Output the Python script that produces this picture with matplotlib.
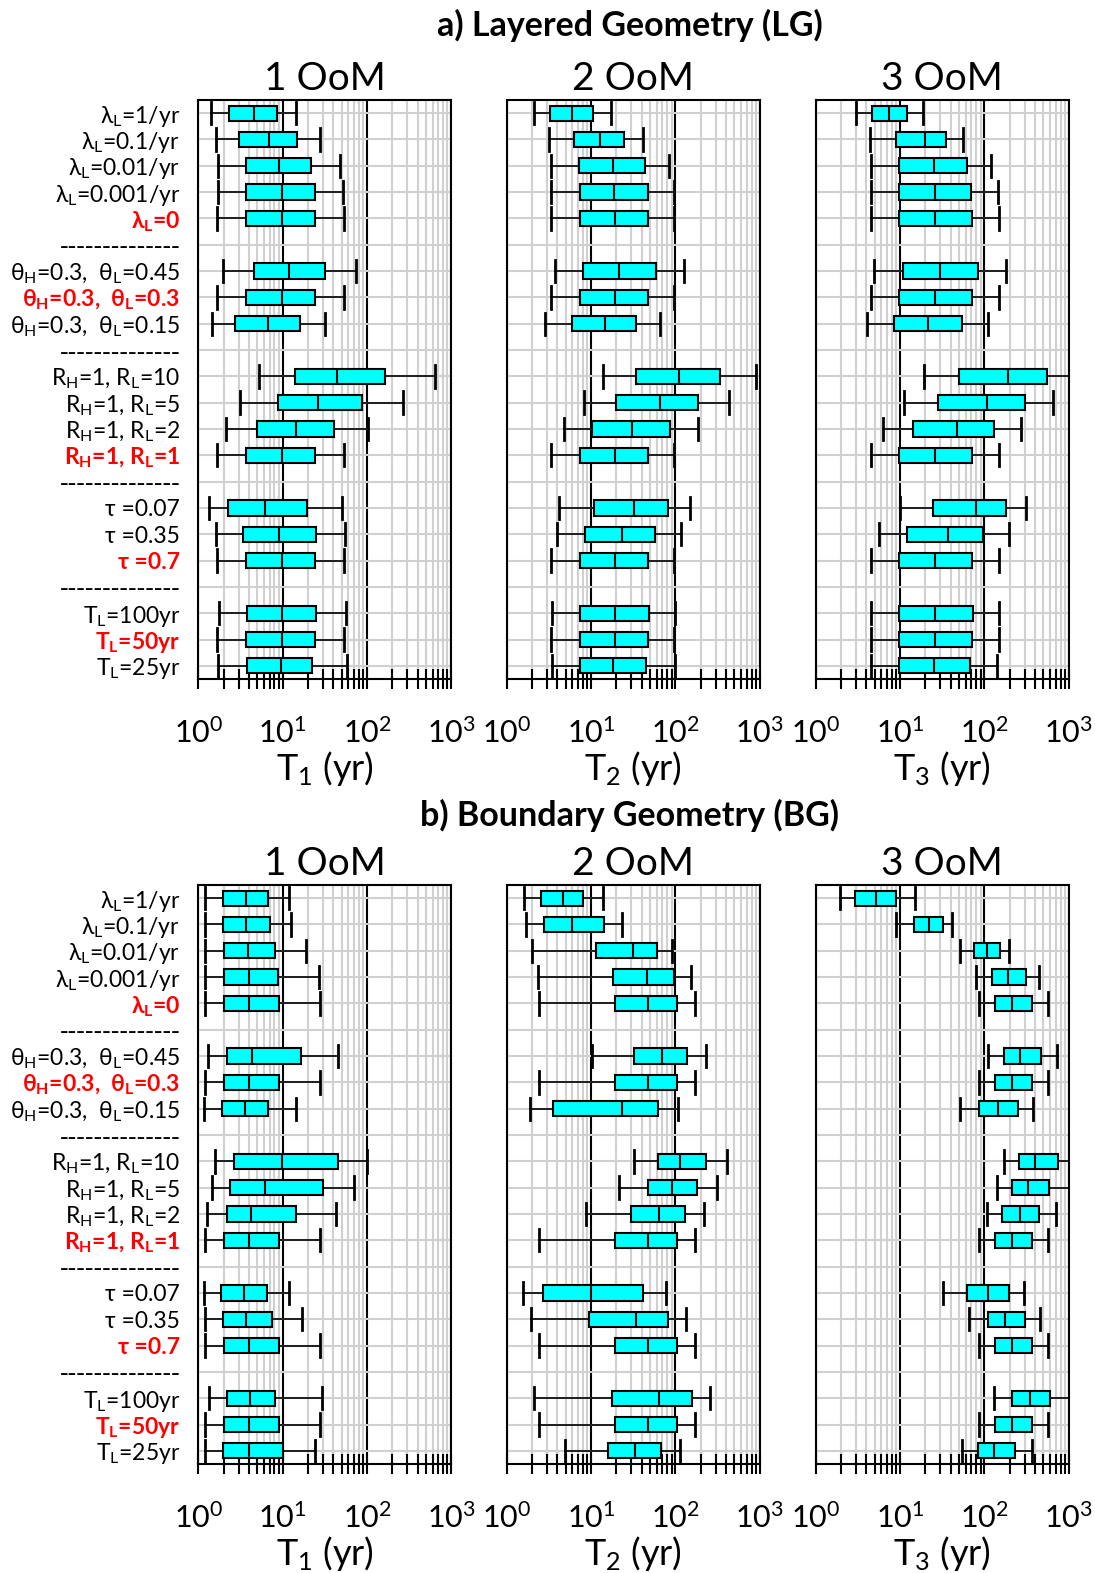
import matplotlib
matplotlib.use('Agg')
import matplotlib.pyplot as plt
from matplotlib.ticker import NullFormatter, LogLocator

plt.rcParams['font.family'] = ['Lato', 'DejaVu Sans']
plt.rcParams['mathtext.fontset'] = 'custom'
plt.rcParams['mathtext.rm'] = 'Lato'
plt.rcParams['mathtext.it'] = 'Lato:italic'
plt.rcParams['mathtext.bf'] = 'Lato:bold'

# row labels (22 rows, separators included)
row_labels = [
    r'λ$_{\mathdefault{L}}$=1/yr', r'λ$_{\mathdefault{L}}$=0.1/yr', r'λ$_{\mathdefault{L}}$=0.01/yr',
    r'λ$_{\mathdefault{L}}$=0.001/yr', r'λ$_{\mathdefault{L}}$=0',
    '--------------',
    r'θ$_{\mathdefault{H}}$=0.3,  θ$_{\mathdefault{L}}$=0.45', r'θ$_{\mathdefault{H}}$=0.3,  θ$_{\mathdefault{L}}$=0.3',
    r'θ$_{\mathdefault{H}}$=0.3,  θ$_{\mathdefault{L}}$=0.15',
    '--------------',
    r'R$_{\mathdefault{H}}$=1, R$_{\mathdefault{L}}$=10', r'R$_{\mathdefault{H}}$=1, R$_{\mathdefault{L}}$=5',
    r'R$_{\mathdefault{H}}$=1, R$_{\mathdefault{L}}$=2', r'R$_{\mathdefault{H}}$=1, R$_{\mathdefault{L}}$=1',
    '--------------',
    'τ =0.07', 'τ =0.35', 'τ =0.7',
    '--------------',
    r'T$_{\mathdefault{L}}$=100yr', r'T$_{\mathdefault{L}}$=50yr', r'T$_{\mathdefault{L}}$=25yr',
]
sep_rows = [6, 10, 15, 19]
red_rows = [5, 8, 14, 18, 21]
box_rows = [r for r in range(1, 23) if r not in sep_rows]

# each box: whisker low, q1, median, q3, whisker high
a_T1 = [
    [1.41, 2.33, 4.6, 8.5, 14.5],
    [1.61, 3.0, 6.8, 15.0, 27.8],
    [1.73, 3.65, 9.1, 21.5, 47.6],
    [1.73, 3.65, 9.7, 24.2, 51.6],
    [1.68, 3.68, 9.8, 24.2, 53],
    [1.96, 4.54, 12.0, 32.1, 74.8],
    [1.68, 3.68, 9.8, 24.2, 53],
    [1.45, 2.75, 6.65, 16.0, 31.6],
    [5.3, 13.9, 44.2, 165, 648],
    [3.1, 8.75, 26.5, 88.3, 270],
    [2.13, 5.0, 14.3, 41.0, 103],
    [1.68, 3.68, 9.8, 24.2, 53],
    [1.33, 2.27, 6.18, 19.6, 50.7],
    [1.61, 3.36, 9.06, 24.7, 54.6],
    [1.68, 3.68, 9.8, 24.2, 53],
    [1.76, 3.75, 9.8, 24.7, 56.5],
    [1.68, 3.68, 9.8, 24.2, 53],
    [1.70, 3.75, 9.57, 22.5, 58],
]

a_T2 = [
    [2.09, 3.26, 5.98, 10.5, 17.2],
    [3.17, 6.21, 12.9, 24.7, 41.8],
    [3.35, 7.18, 18.0, 43.8, 83.4],
    [3.38, 7.31, 18.6, 47.1, 97.3],
    [3.38, 7.31, 19.0, 47.9, 97.3],
    [3.70, 8.0, 21.7, 58.5, 128],
    [3.38, 7.31, 19.0, 47.9, 97.3],
    [2.84, 5.88, 14.6, 34.5, 66.4],
    [13.9, 34.5, 110, 341, 909],
    [8.3, 19.9, 65.3, 185, 432],
    [4.81, 10.4, 31.0, 85.7, 187],
    [3.38, 7.31, 19.0, 47.9, 97.3],
    [4.16, 10.9, 32.1, 81.9, 150],
    [3.94, 8.38, 23.0, 58.0, 116],
    [3.38, 7.31, 19.0, 47.9, 97.3],
    [3.47, 7.44, 19.1, 49.3, 100],
    [3.38, 7.31, 19.0, 47.9, 97.3],
    [3.41, 7.31, 18.3, 45.0, 99],
]

a_T3 = [
    [3.04, 4.61, 7.47, 12.2, 18.9],
    [4.41, 8.97, 20.0, 35.4, 55.3],
    [4.49, 9.64, 25.1, 62.9, 120],
    [4.49, 9.73, 26.2, 70.1, 147],
    [4.49, 9.73, 26.2, 71.4, 149],
    [4.92, 10.8, 30.1, 84.9, 182],
    [4.49, 9.73, 26.2, 71.4, 149],
    [4.03, 8.41, 21.7, 53.8, 110],
    [19.1, 49.6, 191, 553, 1000],
    [11.2, 28.2, 106, 301, 652],
    [6.29, 14.4, 47.0, 130, 275],
    [4.49, 9.73, 26.2, 71.4, 149],
    [9.9, 24.8, 79.6, 181, 309],
    [5.58, 12.2, 36.7, 97.3, 196],
    [4.49, 9.73, 26.2, 71.4, 149],
    [4.57, 9.82, 26.2, 73.4, 151],
    [4.49, 9.73, 26.2, 71.4, 149],
    [4.53, 9.64, 25.3, 68.2, 143],
]

b_T1 = [
    [1.21, 1.96, 3.65, 6.79, 11.9],
    [1.21, 1.96, 3.72, 7.04, 12.5],
    [1.21, 2.0, 3.89, 8.22, 18.8],
    [1.21, 2.04, 3.96, 8.76, 26.7],
    [1.21, 2.04, 4.0, 9.0, 27.9],
    [1.30, 2.21, 4.38, 16.3, 45.2],
    [1.21, 2.04, 4.0, 9.0, 27.9],
    [1.18, 1.91, 3.58, 6.73, 14.3],
    [1.56, 2.68, 9.78, 45.6, 100],
    [1.47, 2.36, 6.14, 30.0, 69.5],
    [1.28, 2.21, 4.26, 14.6, 42.5],
    [1.21, 2.04, 4.0, 9.0, 27.9],
    [1.18, 1.84, 3.46, 6.49, 11.8],
    [1.20, 1.95, 3.69, 7.57, 17.2],
    [1.21, 2.04, 4.0, 9.0, 27.9],
    [1.35, 2.21, 4.15, 8.22, 28.9],
    [1.21, 2.04, 4.0, 9.0, 27.9],
    [1.21, 1.98, 3.96, 10.2, 23.9],
]

b_T2 = [
    [1.62, 2.53, 4.60, 8.0, 13.8],
    [1.68, 2.74, 5.98, 14.1, 23.4],
    [2.0, 11.6, 31.3, 60.7, 91.4],
    [2.37, 18.0, 45.8, 96.4, 155],
    [2.41, 19.0, 47.9, 104, 171],
    [10.3, 32.4, 68.9, 136, 229],
    [2.41, 19.0, 47.9, 104, 171],
    [1.91, 3.57, 23.0, 62.4, 108],
    [32.7, 62.9, 113, 230, 415],
    [21.5, 46.8, 90, 179, 309],
    [8.67, 29.8, 63.6, 130, 216],
    [2.41, 19.0, 47.9, 104, 171],
    [1.57, 2.66, 10.0, 41.3, 76.9],
    [1.92, 9.44, 34.1, 81.0, 134],
    [2.41, 19.0, 47.9, 104, 171],
    [2.09, 17.6, 64.2, 156, 258],
    [2.41, 19.0, 47.9, 104, 171],
    [4.96, 15.8, 33.4, 67.0, 113],
]

b_T3 = [
    [1.93, 2.95, 5.19, 8.97, 15.1],
    [8.89, 14.5, 22.3, 32.1, 41.0],
    [51.9, 74.8, 108, 155, 198],
    [80.4, 124, 193, 315, 445],
    [86.5, 134, 213, 371, 564],
    [111, 171, 267, 470, 734],
    [86.5, 134, 213, 371, 564],
    [51, 87.2, 147, 253, 374],
    [173, 255, 402, 748, 1000],
    [142, 211, 329, 587, 1000],
    [108, 164, 261, 442, 703],
    [86.5, 134, 213, 371, 564],
    [32.7, 62.2, 109, 194, 293],
    [66.3, 109, 177, 302, 451],
    [86.5, 134, 213, 371, 564],
    [130, 214, 347, 593, 1000],
    [86.5, 134, 213, 371, 564],
    [54.3, 83.6, 131, 228, 366],
]

panel_titles = ['a) Layered Geometry (LG)', 'b) Boundary Geometry (BG)']
col_titles = ['1 OoM', '2 OoM', '3 OoM']
xlabels = [r'T$_{\mathdefault{1}}$ (yr)', r'T$_{\mathdefault{2}}$ (yr)', r'T$_{\mathdefault{3}}$ (yr)']

W, H = 1095, 1573
fig = plt.figure(figsize=(W / 100, H / 100), dpi=100)

lefts = [198.3, 506.7, 815.7]
tops = [100, 885]
ax_w, ax_h = 253, 579
panel_data = [[a_T1, a_T2, a_T3], [b_T1, b_T2, b_T3]]

for p in range(2):
    for j in range(3):
        ax = fig.add_axes([lefts[j] / W, 1 - (tops[p] + ax_h) / H, ax_w / W, ax_h / H])
        rows = panel_data[p][j]
        stats = [dict(whislo=r[0], q1=r[1], med=r[2], q3=r[3], whishi=r[4], fliers=[]) for r in rows]
        ax.bxp(stats, positions=box_rows, orientation='horizontal', widths=0.58, capwidths=0.85,
               patch_artist=True, showfliers=False,
               boxprops=dict(facecolor='#00ffff', edgecolor='black', linewidth=1.5),
               medianprops=dict(color='black', linewidth=1.5),
               whiskerprops=dict(color='black', linewidth=1.2),
               capprops=dict(color='black', linewidth=2))
        ax.set_xscale('log')
        ax.set_xlim(1, 1000)
        ax.set_ylim(22.5, 0.5)
        ax.set_axisbelow(True)
        ax.xaxis.set_major_locator(LogLocator(base=10))
        ax.xaxis.set_minor_locator(LogLocator(base=10, subs=range(2, 10)))
        ax.xaxis.set_minor_formatter(NullFormatter())
        ax.grid(which='minor', axis='x', color='#d0d0d0', linewidth=1.5)
        ax.grid(which='major', axis='x', color='black', linewidth=1.5)
        ax.set_yticks(range(1, 23))
        ax.grid(which='major', axis='y', color='#d0d0d0', linewidth=1.5)
        ax.tick_params(axis='x', which='both', direction='inout', length=15, width=1.5,
                       labelsize=22, pad=20, top=False)
        ax.tick_params(axis='y', length=0, pad=13, labelsize=16.5)
        for s in ax.spines.values():
            s.set_linewidth(1.5)
        if j == 0:
            ax.set_yticklabels(row_labels)
            for i, t in enumerate(ax.get_yticklabels()):
                r = i + 1
                if r in red_rows:
                    t.set_color('red')
                    t.set_fontweight('bold')
                if r in sep_rows:
                    t.set_family('DejaVu Sans')
                    t.set_fontsize(17.5)
        else:
            ax.set_yticklabels([])
        ax.set_title(col_titles[j], fontsize=28, pad=7)
        ax.set_xlabel(xlabels[j], fontsize=26, labelpad=1)
    fig.text(630 / W, 1 - (25 + 790 * p) / H, panel_titles[p], ha='center', va='center',
             fontsize=24.5, fontweight='bold')

fig.savefig('out.png', dpi=100)
